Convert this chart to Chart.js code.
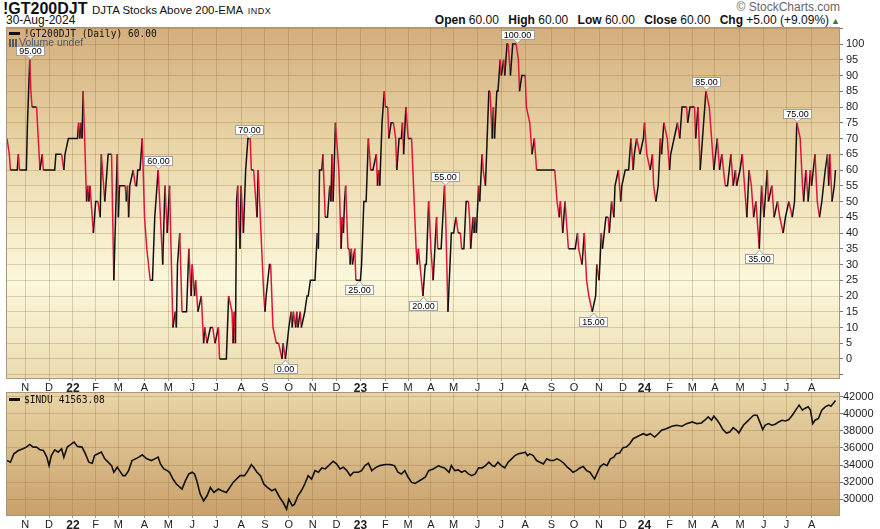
<!DOCTYPE html>
<html>
<head>
<meta charset="utf-8">
<script src="https://cdn.jsdelivr.net/npm/chart.js@4.4.1/dist/chart.umd.min.js"></script>
<style>
    body { margin: 0; background: #fff; font-family: "Liberation Sans", Arial, sans-serif; color: #111; }
    #wrap { position: relative; width: 880px; height: 529px; overflow: hidden; }
    .abs { position: absolute; white-space: nowrap; }
    canvas { position: absolute; left: 0; }
    .sym { font-family: "Liberation Sans Narrow", "Liberation Sans", Arial, sans-serif; font-weight: bold; font-size: 16px; }
    .desc { font-size: 11.5px; }
    .exch { font-size: 9px; letter-spacing: 0.5px; }
    .copy { font-size: 12px; color: #666; }
    .quote { font-size: 12px; }
    .quote b { margin-left: 6px; }
    .up { color: #2e7d32; font-size: 9px; margin-left: 2px; }
    .legend { font-family: "DejaVu Sans Mono", monospace; font-size: 9.6px; color: #111; line-height: 12px; }
    .legend i { display: inline-block; width: 11px; height: 3px; background: #111; vertical-align: middle; margin-right: 4px; margin-top: -2px; }
    .vol { font-size: 10.5px; color: #4d5a6e; line-height: 12px; }
    .vol i { display: inline-block; width: 9px; height: 8px; margin-right: 1px; vertical-align: -1px;
        background: linear-gradient(90deg, #4d5a6e 0 2px, transparent 2px 3px, #4d5a6e 3px 5px, transparent 5px 6px, #4d5a6e 6px 8px, transparent 8px); }
</style>
</head>
<body>
<div id="wrap">
    <div class="abs" style="left:3px;top:0px;line-height:17px;"><span class="sym">!GT200DJT</span> <span class="desc">DJTA Stocks Above 200-EMA</span> <span class="exch">INDX</span></div>
    <div class="abs" style="left:6px;top:14px;font-size:12px;line-height:13px;">30-Aug-2024</div>
    <div class="abs copy" style="right:40px;top:0px;">© StockCharts.com</div>
    <div class="abs quote" style="right:40px;top:13px;"><b>Open</b> 60.00 <b>High</b> 60.00 <b>Low</b> 60.00 <b>Close</b> 60.00 <b>Chg</b> +5.00 (+9.09%)<span class="up">▲</span></div>

    <canvas id="topChart" width="880" height="365" style="top:27px"></canvas>
    <canvas id="botChart" width="880" height="137" style="top:392px"></canvas>

    <div class="abs legend" style="left:9px;top:28px;"><i></i>!GT200DJT (Daily) 60.00</div>
    <div class="abs vol" style="left:9px;top:36px;"><i></i>Volume undef</div>
    <div class="abs legend" style="left:9px;top:394px;"><i></i>$INDU 41563.08</div>
</div>

<script>
// trading-day index (0 = first bar, early Oct 2021) and values
const gtDays = [0, 2, 3, 9, 10, 11, 17, 18, 20, 21, 22, 26, 29, 31, 32, 42, 43, 48, 50, 51, 54, 62, 63, 64, 65, 66, 67, 70, 71, 72, 73, 76, 78, 80, 82, 83, 86, 89, 92, 94, 97, 98, 99,
    104, 105, 106, 107, 108, 111, 113, 114, 115, 117, 119, 121, 123, 126, 128, 130, 133, 137, 139, 141, 143, 146, 148, 149, 150, 152, 154, 158, 160, 162, 163, 165, 166, 168, 171, 173, 174, 176, 179, 181, 183, 186, 187, 193, 195, 198, 199,
    200, 201, 202, 203, 205, 206, 208, 210, 212, 214, 215, 217, 220, 221, 226, 227, 228, 231, 232, 234, 237, 239, 242, 243, 245, 248, 250, 251, 252, 254, 255, 256, 258, 259, 262, 264, 265, 267, 271, 273, 274, 275, 277, 278, 280, 282, 284, 285, 286, 287, 289, 292, 294, 295, 296, 297, 298,
    300, 301, 302, 303, 304, 306, 307, 311, 312, 314, 316, 318, 320, 322, 325, 326, 327, 328, 330, 332, 333, 335, 336, 338, 340, 342, 343, 345, 347, 348, 349, 351, 353, 356, 360, 361, 362, 366, 368, 369, 371, 373, 375, 378, 379, 382, 385, 386, 388, 391, 393, 395, 397, 399,
    400, 402, 404, 406, 407, 408, 410, 411, 412, 413, 415, 416, 418, 419, 421, 424, 425, 427, 428, 429, 431, 432, 434, 435, 437, 438, 440, 441, 443, 445, 448, 450, 451, 453, 456, 457, 460, 462, 464, 466, 469, 482, 484, 486, 487, 489, 491, 493, 494,
    500, 502, 503, 506, 508, 510, 512, 515, 518, 519, 521, 523, 524, 527, 529, 530, 532, 534, 535, 538, 540, 541, 544, 547, 549, 551, 552, 554, 557, 560, 561, 563, 566, 568, 569, 571, 573, 575, 576, 578, 581, 583, 584, 587, 590, 592, 594, 598, 599,
    601, 605, 606, 608, 610, 612, 615, 618, 620, 622, 625, 627, 629, 632, 634, 637, 639, 641, 642, 645, 647, 649, 651, 653, 655, 657, 659, 662, 664, 666, 669, 670, 673, 675, 678, 680, 683, 685, 688, 691, 693, 695, 698,
    700, 701, 703, 705, 707, 708, 711, 713, 715, 717, 720, 722, 723, 724, 726, 728, 729];
const gtValues = [70, 65, 60, 60, 65, 60, 60, 75, 95, 85, 80, 80, 60, 65, 60, 60, 65, 65, 60, 65, 70, 70, 75, 70, 75, 70, 85, 50, 55, 50, 55, 40, 50, 50, 45, 65, 50, 65, 65, 25, 65, 45, 55,
    55, 50, 55, 45, 55, 60, 55, 55, 60, 60, 70, 45, 35, 25, 25, 45, 60, 30, 55, 40, 55, 10, 15, 10, 30, 40, 15, 15, 35, 20, 30, 20, 25, 15, 20, 5, 10, 5, 10, 10, 5, 10, 0, 0, 20, 15, 5,
    15, 5, 50, 55, 35, 55, 40, 60, 70, 70, 60, 60, 45, 60, 20, 15, 20, 30, 30, 10, 5, 5, 0, 5, 0, 10, 15, 10, 15, 10, 15, 10, 15, 10, 15, 20, 20, 25, 25, 40, 35, 60, 60, 65, 45, 45, 55, 50, 65, 50, 75, 60, 35, 45, 40, 50, 55,
    35, 35, 30, 35, 30, 35, 25, 25, 30, 50, 50, 70, 60, 60, 65, 55, 60, 55, 75, 85, 80, 80, 70, 75, 75, 70, 60, 70, 70, 75, 65, 80, 70, 70, 35, 30, 35, 20, 30, 30, 50, 35, 25, 45, 35, 35, 55, 45, 15, 40, 40, 45, 40, 40,
    35, 35, 50, 50, 45, 35, 45, 40, 45, 40, 55, 50, 65, 60, 55, 85, 85, 70, 80, 70, 85, 85, 95, 90, 95, 90, 100, 100, 90, 100, 100, 95, 85, 90, 90, 80, 75, 65, 70, 60, 60, 60, 50, 45, 50, 40, 50, 40, 35,
    35, 40, 35, 30, 40, 25, 20, 15, 20, 30, 25, 40, 35, 45, 45, 40, 50, 45, 55, 60, 50, 55, 60, 60, 70, 60, 65, 70, 65, 70, 75, 65, 60, 65, 55, 50, 55, 70, 65, 75, 70, 60, 65, 70, 75, 70, 80, 80, 75,
    80, 80, 70, 80, 60, 70, 85, 80, 70, 60, 70, 60, 65, 55, 55, 65, 55, 60, 55, 60, 65, 55, 45, 60, 55, 45, 50, 35, 55, 45, 60, 50, 55, 45, 50, 45, 40, 45, 50, 45, 50, 75, 70,
    55, 50, 60, 50, 60, 55, 65, 50, 45, 50, 60, 65, 55, 65, 50, 55, 60];

const induDays = [0, 3, 6, 10, 14, 17, 20, 23, 26, 29, 32, 35, 37, 39, 42, 45, 48, 50, 53, 55, 59, 62, 66, 69, 72, 75, 77, 80, 83, 86, 89, 92, 94, 97, 99,
    102, 104, 107, 110, 113, 116, 119, 123, 127, 130, 133, 135, 138, 141, 143, 146, 149, 154, 157, 160, 163, 165, 167, 170, 173, 176, 179, 182, 186, 189, 193, 196, 199,
    202, 205, 209, 212, 215, 217, 220, 223, 226, 229, 233, 236, 240, 243, 246, 248, 251, 253, 256, 259, 262, 265, 268, 271, 274, 277, 280, 283, 287, 290, 293, 296, 299,
    302, 305, 309, 312, 315, 318, 321, 324, 328, 333, 337, 341, 344, 347, 350, 353, 356, 359, 363, 368, 371, 375, 380, 381, 385, 389, 391, 394, 397,
    400, 403, 406, 409, 412, 415, 418, 421, 424, 427, 429, 432, 435, 438, 441, 444, 447, 450, 453, 456, 458, 460, 463, 466, 469, 472, 475, 478, 481, 484, 487, 490, 493, 496, 498,
    501, 504, 507, 510, 513, 515, 517, 519, 522, 525, 528, 531, 534, 536, 539, 542, 545, 548, 551, 554, 557, 560, 563, 566, 570, 573, 576, 580, 585, 589, 594, 598,
    603, 607, 611, 614, 617, 620, 622, 625, 627, 630, 633, 636, 639, 642, 644, 648, 651, 654, 657, 660, 663, 665, 667, 670, 673, 676, 679, 682, 685, 688, 691, 694, 697,
    700, 702, 705, 707, 709, 711, 714, 717, 720, 723, 725, 727, 729];
const induValues = [34520, 34330, 35310, 35700, 35900, 36100, 36410, 36100, 36100, 35780, 35700, 34920, 33930, 35110, 35780, 35510, 35900, 34920, 36100, 36300, 36690, 36180, 36100, 35310, 34330, 34210, 35110, 35310, 35510, 34720, 34330, 33930, 33150, 33740, 33340,
    32750, 32750, 33340, 34520, 34720, 34920, 35190, 34720, 34520, 34720, 34920, 34130, 33540, 33340, 33150, 32360, 31770, 31180, 32160, 32950, 33150, 32950, 32160, 30590, 29800, 30390, 31370, 30780, 31180, 30980, 30780, 31370, 31960,
    32360, 32750, 32750, 33340, 34050, 33740, 33150, 32750, 31770, 31370, 30980, 31180, 30190, 29600, 28820, 30000, 29210, 29410, 30390, 30980, 31770, 32750, 32360, 33340, 33150, 33660, 33540, 33930, 34440, 34130, 33540, 33740, 33340,
    32750, 33150, 33150, 33340, 33930, 34210, 33340, 33660, 33930, 34050, 34050, 33930, 33150, 32950, 33340, 32560, 31960, 31850, 32160, 32560, 33340, 33540, 33930, 33820, 33660, 33150, 33930, 33340, 33420,
    33150, 33340, 32950, 32750, 32950, 33660, 33660, 33930, 34330, 33930, 33820, 34330, 33930, 33660, 34330, 34720, 35110, 35310, 35390, 35510, 35110, 35310, 35110, 34520, 34330, 34130, 34720, 34520, 34520, 34720, 34520, 34210, 33740, 33420, 33150,
    33340, 33660, 33820, 33340, 33150, 32750, 32360, 32950, 33820, 34130, 33930, 34720, 34920, 35310, 35390, 36020, 36100, 36490, 37080, 37280, 37480, 37670, 37480, 37670, 37280, 37670, 38070, 38260, 38540, 38660, 38540, 38850,
    39050, 38850, 38930, 39250, 39640, 39250, 39720, 39250, 38850, 38150, 37750, 37870, 38380, 38070, 37750, 38660, 39050, 39450, 39840, 39840, 38850, 38150, 38660, 38850, 38660, 38780, 39050, 39250, 39170, 39330, 39840, 40430, 41020,
    40430, 40630, 40820, 40430, 38850, 39250, 39450, 40430, 40820, 41020, 40900, 41220, 41563];

// month ticks on the shared date axis
const monthDays = [16, 37, 58, 78, 98, 121, 142, 163, 184, 206, 227, 248, 269, 290, 311, 333, 353, 373, 393, 414, 435, 456, 479, 499, 521, 542, 561, 583, 603, 623, 645, 666, 686, 708];
const monthLabels = ['N', 'D', '22', 'F', 'M', 'A', 'M', 'J', 'J', 'A', 'S', 'O', 'N', 'D', '23', 'F', 'M', 'A', 'M', 'J', 'J', 'A', 'S', 'O', 'N', 'D', '24', 'F', 'M', 'A', 'M', 'J', 'J', 'A'];

const gtTicks = [-5, 0, 5, 10, 15, 20, 25, 30, 35, 40, 45, 50, 55, 60, 65, 70, 75, 80, 85, 90, 95, 100, 105];
const induTicks = [30000, 32000, 34000, 36000, 38000, 40000, 42000];

// labelled highs and lows
const annoDays = [20, 133, 213, 245, 310, 366, 385, 449, 516, 615, 662, 695];
const annoValues = [95, 60, 70, 0, 25, 20, 55, 100, 15, 85, 35, 75];
const annoBelow = [false, false, false, true, true, true, false, false, true, false, true, false];

const FONT = '"Liberation Sans", Arial, sans-serif';
const RED = '#e3143c';
const BLACK = '#111111';
const GRID = 'rgba(140, 105, 60, 0.28)';
const X_MIN = -0.9;
const X_MAX = 733;

document.addEventListener('DOMContentLoaded', () => {
    initTopChart();
    initBottomChart();
});

function panelBackground(stops) {
    return {
        id: 'panelBackground',
        beforeDraw(chart) {
            const { ctx, chartArea: a } = chart;
            const g = ctx.createLinearGradient(0, a.top, 0, a.bottom);
            stops.forEach(s => g.addColorStop(s[0], s[1]));
            ctx.save();
            ctx.fillStyle = g;
            ctx.fillRect(a.left, a.top, a.right - a.left, a.bottom - a.top);
            ctx.restore();
        },
        afterDraw(chart) {
            const { ctx, chartArea: a } = chart;
            ctx.save();
            ctx.strokeStyle = '#a8957c';
            ctx.lineWidth = 1;
            ctx.strokeRect(a.left + 0.5, a.top + 0.5, a.right - a.left - 1, a.bottom - a.top - 1);
            ctx.restore();
        }
    };
}

// value boxes at the swing highs / lows
const annotations = {
    id: 'annotations',
    afterDatasetsDraw(chart) {
        const { ctx, scales: { x, y } } = chart;
        ctx.save();
        ctx.font = '9px ' + FONT;
        ctx.textAlign = 'center';
        ctx.textBaseline = 'middle';
        annoDays.forEach((d, i) => {
            const px = Math.round(x.getPixelForValue(d)) + 0.5;
            const py = Math.round(y.getPixelForValue(annoValues[i]));
            const text = annoValues[i].toFixed(2);
            const w = Math.round(ctx.measureText(text).width) + 6;
            const h = 10;
            const below = annoBelow[i];
            const top = below ? py + 5 : py - 4 - h;
            const left = Math.round(px - w / 2);
            ctx.fillStyle = '#ffffff';
            ctx.strokeStyle = '#a0a0a0';
            ctx.lineWidth = 1;
            ctx.fillRect(left, top, w, h);
            ctx.strokeRect(left + 0.5, top + 0.5, w - 1, h - 1);
            // pointer
            const baseY = below ? top + 0.5 : top + h - 0.5;
            const tipY = below ? py + 1 : py - 1;
            ctx.beginPath();
            ctx.moveTo(px - 4, baseY);
            ctx.lineTo(px, tipY);
            ctx.lineTo(px + 4, baseY);
            ctx.closePath();
            ctx.fill();
            ctx.beginPath();
            ctx.moveTo(px - 4, baseY);
            ctx.lineTo(px, tipY);
            ctx.lineTo(px + 4, baseY);
            ctx.stroke();
            ctx.fillStyle = '#000';
            ctx.fillText(text, px, top + h / 2 + 0.5);
        });
        ctx.restore();
    }
};

function xScale() {
    return {
        type: 'linear',
        min: X_MIN,
        max: X_MAX,
        afterBuildTicks: s => { s.ticks = monthDays.map(v => ({ value: v })); },
        afterFit: s => { s.height = 13; s.paddingLeft = 0; s.paddingRight = 0; },
        ticks: {
            autoSkip: false,
            maxRotation: 0,
            padding: 0,
            color: '#222',
            font: ctx => {
                const lbl = ctx.tick ? monthLabels[monthDays.indexOf(ctx.tick.value)] : '';
                const isYear = /\d/.test(lbl || '');
                return { family: FONT, size: isYear ? 12 : 11, weight: isYear ? 'bold' : 'normal' };
            },
            callback: v => monthLabels[monthDays.indexOf(v)]
        },
        grid: { color: GRID, tickColor: '#999', tickLength: 2 },
        border: { display: false }
    };
}

function yScale(min, max, tickValues, labelFn, padding) {
    return {
        position: 'right',
        min: min,
        max: max,
        afterBuildTicks: s => { s.ticks = tickValues.map(v => ({ value: v })); },
        afterFit: s => { s.width = 40; s.paddingTop = 0; s.paddingBottom = 0; },
        ticks: {
            autoSkip: false,
            padding: padding,
            color: '#222',
            font: { family: FONT, size: 11 },
            callback: labelFn
        },
        grid: { color: GRID, tickColor: '#777', tickLength: 3 },
        border: { display: false }
    };
}

function initTopChart() {
    const points = gtDays.map((d, i) => ({ x: d, y: gtValues[i] }));
    new Chart(document.getElementById('topChart'), {
        type: 'line',
        data: {
            datasets: [{
                data: points,
                borderColor: BLACK,
                borderWidth: 1.5,
                pointRadius: 0,
                tension: 0,
                segment: {
                    borderColor: ctx => (ctx.p1.parsed.y < ctx.p0.parsed.y ? RED : BLACK)
                }
            }]
        },
        options: {
            responsive: false,
            animation: false,
            events: [],
            layout: { padding: { left: 6, top: 0, right: 0, bottom: 0 } },
            plugins: { legend: { display: false }, tooltip: { enabled: false } },
            scales: {
                x: xScale(),
                y: yScale(-6.35, 105.4, gtTicks, v => (v < 0 || v > 100 ? '' : String(v)), 3)
            }
        },
        plugins: [panelBackground([[0, '#d3ae7c'], [0.35, '#ead6a8'], [0.72, '#fbf8dc'], [1, '#ebdbaf']]), annotations]
    });
}

function initBottomChart() {
    const points = induDays.map((d, i) => ({ x: d, y: induValues[i] }));
    new Chart(document.getElementById('botChart'), {
        type: 'line',
        data: {
            datasets: [{
                data: points,
                borderColor: BLACK,
                borderWidth: 1.6,
                pointRadius: 0,
                tension: 0
            }]
        },
        options: {
            responsive: false,
            animation: false,
            events: [],
            layout: { padding: { left: 6, top: 0, right: 0, bottom: 0 } },
            plugins: { legend: { display: false }, tooltip: { enabled: false } },
            scales: {
                x: xScale(),
                y: yScale(28020, 42560, induTicks, v => String(v), 0)
            }
        },
        plugins: [panelBackground([[0, '#e9d5a6'], [1, '#c8a06a']])]
    });
}
</script>
</body>
</html>
